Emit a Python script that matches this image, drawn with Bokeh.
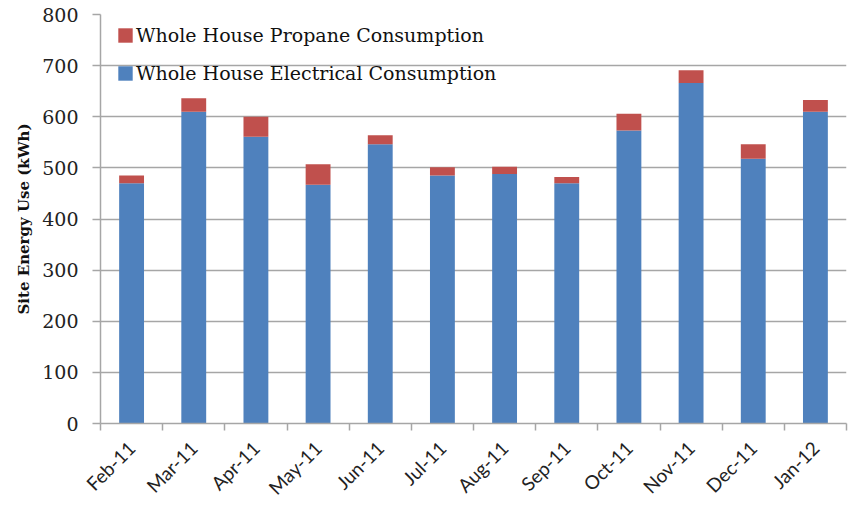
import math
from bokeh.plotting import figure
from bokeh.models import Range1d, FixedTicker, Legend, LegendItem, ColumnDataSource
from bokeh.embed import file_html
from bokeh.resources import INLINE

months = ["Feb-11", "Mar-11", "Apr-11", "May-11", "Jun-11", "Jul-11",
          "Aug-11", "Sep-11", "Oct-11", "Nov-11", "Dec-11", "Jan-12"]
electric = [470, 610, 561, 467, 546, 485, 488, 470, 573, 666, 518, 610]
propane = [15, 26, 39, 40, 18, 16, 14, 12, 33, 25, 28, 23]
y_ticks = [0, 100, 200, 300, 400, 500, 600, 700, 800]

xs = [i + 0.5 for i in range(len(months))]
src = ColumnDataSource(dict(x=xs, electric=electric, propane=propane))

p = figure(width=848, height=510, output_backend="svg", toolbar_location=None,
           x_range=Range1d(0, len(months)), y_range=Range1d(0, 800),
           min_border_left=100, min_border_right=2, min_border_top=14,
           min_border_bottom=83)
p.outline_line_color = None
p.background_fill_color = "white"

rs = p.vbar_stack(["electric", "propane"], x="x", width=0.4, source=src,
                  color=["#4f81bd", "#c0504d"], line_color=None)

# grid
p.xgrid.grid_line_color = None
p.ygrid.ticker = FixedTicker(ticks=y_ticks)
p.ygrid.grid_line_color = "#a6a6a6"
p.ygrid.grid_line_width = 1.5
p.ygrid.level = "underlay"

# y axis
ya = p.yaxis[0]
ya.ticker = FixedTicker(ticks=y_ticks)
ya.axis_line_color = "#a6a6a6"
ya.axis_line_width = 1.5
ya.major_tick_line_color = "#a6a6a6"
ya.major_tick_line_width = 1.5
ya.major_tick_out = 8
ya.major_tick_in = 0
ya.minor_tick_line_color = None
ya.major_label_standoff = 14
ya.major_label_text_font = "DejaVu Serif"
ya.major_label_text_font_size = "19px"
ya.major_label_text_color = "#222222"
ya.axis_label = "Site Energy Use (kWh)"
ya.axis_label_text_font = "DejaVu Serif"
ya.axis_label_text_font_style = "bold"
ya.axis_label_text_font_size = "15px"
ya.axis_label_text_color = "#111111"
ya.axis_label_standoff = 6

# x axis
xa = p.xaxis[0]
xa.ticker = FixedTicker(ticks=xs, minor_ticks=list(range(len(months) + 1)))
xa.major_label_overrides = {x: m for x, m in zip(xs, months)}
xa.major_label_orientation = math.pi / 4
xa.major_tick_line_color = None
xa.minor_tick_line_color = "#a6a6a6"
xa.minor_tick_line_width = 1.5
xa.minor_tick_out = 7
xa.minor_tick_in = 0
xa.axis_line_color = "#a6a6a6"
xa.axis_line_width = 1.5
xa.major_label_standoff = 14
xa.major_label_text_font = "Lato"
xa.major_label_text_font_size = "19px"
xa.major_label_text_color = "#222222"

legend = Legend(items=[LegendItem(label="Whole House Propane Consumption", renderers=[rs[1]]),
                       LegendItem(label="Whole House Electrical Consumption", renderers=[rs[0]])],
                location=(16, 339), orientation="vertical")
legend.border_line_color = None
legend.background_fill_alpha = 0
legend.margin = 0
legend.padding = 0
legend.glyph_width = 18
legend.glyph_height = 18
legend.label_height = 22
legend.spacing = 16
legend.label_standoff = 2
legend.label_text_font = "DejaVu Serif"
legend.label_text_font_size = "19px"
legend.label_text_color = "#111111"
p.add_layout(legend, "center")

open("out.html", "w").write(file_html(p, INLINE))
